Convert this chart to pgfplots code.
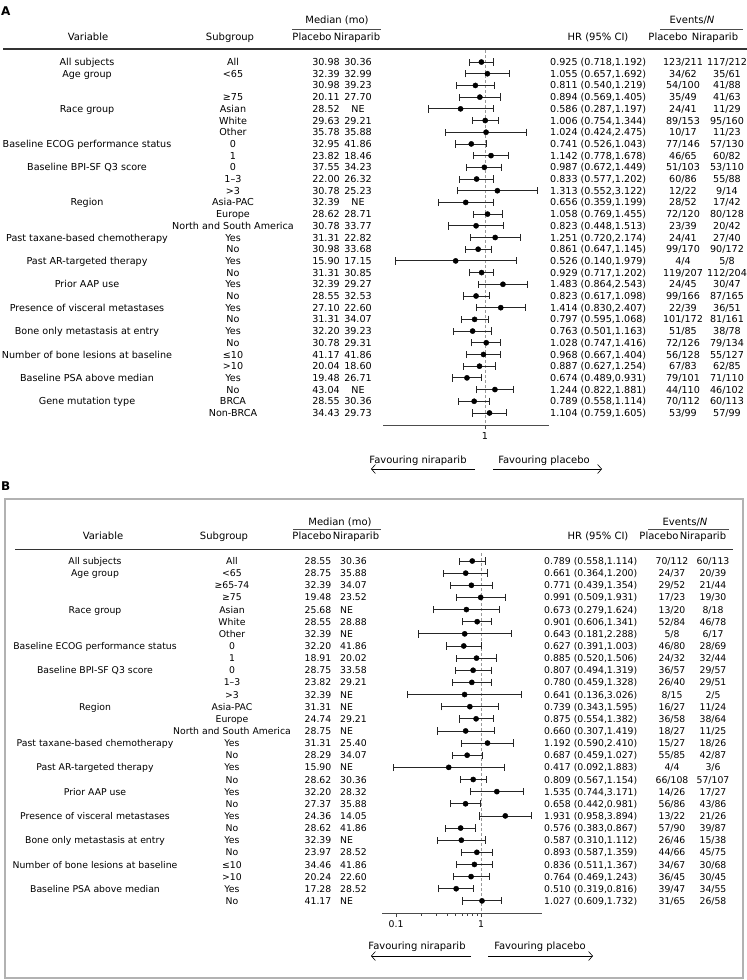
\documentclass[border=0pt]{standalone}
\usepackage{fontspec}
\setmainfont{DejaVu Sans}
\usepackage{pgfplots}
\usepackage{pgfplotstable}
\pgfplotsset{compat=1.18}
\usetikzlibrary{arrows.meta}

% panel A: row, HR, lower, upper
\pgfplotstableread{
row hr lo hi
0 0.925 0.718 1.192
1 1.055 0.657 1.692
2 0.811 0.540 1.219
3 0.894 0.569 1.405
4 0.586 0.287 1.197
5 1.006 0.754 1.344
6 1.024 0.424 2.475
7 0.741 0.526 1.043
8 1.142 0.778 1.678
9 0.987 0.672 1.449
10 0.833 0.577 1.202
11 1.313 0.552 3.122
12 0.656 0.359 1.199
13 1.058 0.769 1.455
14 0.823 0.448 1.513
15 1.251 0.720 2.174
16 0.861 0.647 1.145
17 0.526 0.140 1.979
18 0.929 0.717 1.202
19 1.483 0.864 2.543
20 0.823 0.617 1.098
21 1.414 0.830 2.407
22 0.797 0.595 1.068
23 0.763 0.501 1.163
24 1.028 0.747 1.416
25 0.968 0.667 1.404
26 0.887 0.627 1.254
27 0.674 0.489 0.931
28 1.244 0.822 1.881
29 0.789 0.558 1.114
30 1.104 0.759 1.605
}\tabA

% panel B
\pgfplotstableread{
row hr lo hi
0 0.789 0.558 1.114
1 0.661 0.364 1.200
2 0.771 0.439 1.354
3 0.991 0.509 1.931
4 0.673 0.279 1.624
5 0.901 0.606 1.341
6 0.643 0.181 2.288
7 0.627 0.391 1.003
8 0.885 0.520 1.506
9 0.807 0.494 1.319
10 0.780 0.459 1.328
11 0.641 0.136 3.026
12 0.739 0.343 1.595
13 0.875 0.554 1.382
14 0.660 0.307 1.419
15 1.192 0.590 2.410
16 0.687 0.459 1.027
17 0.417 0.092 1.883
18 0.809 0.567 1.154
19 1.535 0.744 3.171
20 0.658 0.442 0.981
21 1.931 0.958 3.894
22 0.576 0.383 0.867
23 0.587 0.310 1.112
24 0.893 0.587 1.359
25 0.836 0.511 1.367
26 0.764 0.469 1.243
27 0.510 0.319 0.816
28 1.027 0.609 1.732
}\tabB

\newcommand\fA{\fontsize{9.6}{11}\selectfont}
\newcommand\fB{\fontsize{9.3}{11}\selectfont}
\newcommand\fH{\fontsize{10}{12}\selectfont}

\newcommand\rowA[8]{%
  \pgfmathsetmacro\yy{62+11.7*#1}%
  \node at (87,\yy) {#2};
  \node at (233,\yy) {#3};
  \node at (326,\yy) {#4};
  \node at (358,\yy) {#5};
  \node[anchor=west] at (550,\yy) {#6};
  \node at (683,\yy) {#7};
  \node at (727,\yy) {#8};
}
\newcommand\rowB[8]{%
  \pgfmathsetmacro\yy{561+12.14*#1}%
  \node at (95,\yy) {#2};
  \node at (232,\yy) {#3};
  \node at (318,\yy) {#4};
  \node[anchor=west] at (340,\yy) {#5};
  \node[anchor=west] at (544,\yy) {#6};
  \node at (672,\yy) {#7};
  \node at (713,\yy) {#8};
}

\begin{document}
\begin{tikzpicture}[x=1pt, y=-1pt, every node/.style={inner sep=0pt, text height=7pt, text depth=0pt}]
\useasboundingbox (0,0) rectangle (747,980);

% ---------- panel A ----------
\node[anchor=west, font=\bfseries\fontsize{12}{14}\selectfont] at (1,12) {A};
\begin{scope}[font=\fH]
  \node at (337,20) {Median (mo)};
  \draw[black!70, line width=0.7pt] (292,29) -- (381,29);
  \node at (88,37) {Variable};
  \node at (230,37) {Subgroup};
  \node at (312,37) {Placebo};
  \node at (357,37) {Niraparib};
  \node at (598,37) {HR (95\% CI)};
  \node at (692,20) {Events/\textit{N}};
  \draw[black!70, line width=0.7pt] (660,29) -- (743,29);
  \node at (668,37) {Placebo};
  \node at (715,37) {Niraparib};
\end{scope}
\draw[black!80, line width=1.2pt] (3,49) -- (747,49);

\begin{scope}[font=\fA]
\rowA{0}{All subjects}{All}{30.98}{30.36}{0.925 (0.718,1.192)}{123/211}{117/212}
\rowA{1}{Age group}{<65}{32.39}{32.99}{1.055 (0.657,1.692)}{34/62}{35/61}
\rowA{2}{}{}{30.98}{39.23}{0.811 (0.540,1.219)}{54/100}{41/88}
\rowA{3}{}{≥75}{20.11}{27.70}{0.894 (0.569,1.405)}{35/49}{41/63}
\rowA{4}{Race group}{Asian}{28.52}{NE}{0.586 (0.287,1.197)}{24/41}{11/29}
\rowA{5}{}{White}{29.63}{29.21}{1.006 (0.754,1.344)}{89/153}{95/160}
\rowA{6}{}{Other}{35.78}{35.88}{1.024 (0.424,2.475)}{10/17}{11/23}
\rowA{7}{Baseline ECOG performance status}{0}{32.95}{41.86}{0.741 (0.526,1.043)}{77/146}{57/130}
\rowA{8}{}{1}{23.82}{18.46}{1.142 (0.778,1.678)}{46/65}{60/82}
\rowA{9}{Baseline BPI-SF Q3 score}{0}{37.55}{34.23}{0.987 (0.672,1.449)}{51/103}{53/110}
\rowA{10}{}{1–3}{22.00}{26.32}{0.833 (0.577,1.202)}{60/86}{55/88}
\rowA{11}{}{>3}{30.78}{25.23}{1.313 (0.552,3.122)}{12/22}{9/14}
\rowA{12}{Region}{Asia-PAC}{32.39}{NE}{0.656 (0.359,1.199)}{28/52}{17/42}
\rowA{13}{}{Europe}{28.62}{28.71}{1.058 (0.769,1.455)}{72/120}{80/128}
\rowA{14}{}{North and South America}{30.78}{33.77}{0.823 (0.448,1.513)}{23/39}{20/42}
\rowA{15}{Past taxane-based chemotherapy}{Yes}{31.31}{22.82}{1.251 (0.720,2.174)}{24/41}{27/40}
\rowA{16}{}{No}{30.98}{33.68}{0.861 (0.647,1.145)}{99/170}{90/172}
\rowA{17}{Past AR-targeted therapy}{Yes}{15.90}{17.15}{0.526 (0.140,1.979)}{4/4}{5/8}
\rowA{18}{}{No}{31.31}{30.85}{0.929 (0.717,1.202)}{119/207}{112/204}
\rowA{19}{Prior AAP use}{Yes}{32.39}{29.27}{1.483 (0.864,2.543)}{24/45}{30/47}
\rowA{20}{}{No}{28.55}{32.53}{0.823 (0.617,1.098)}{99/166}{87/165}
\rowA{21}{Presence of visceral metastases}{Yes}{27.10}{22.60}{1.414 (0.830,2.407)}{22/39}{36/51}
\rowA{22}{}{No}{31.31}{34.07}{0.797 (0.595,1.068)}{101/172}{81/161}
\rowA{23}{Bone only metastasis at entry}{Yes}{32.20}{39.23}{0.763 (0.501,1.163)}{51/85}{38/78}
\rowA{24}{}{No}{30.78}{29.31}{1.028 (0.747,1.416)}{72/126}{79/134}
\rowA{25}{Number of bone lesions at baseline}{≤10}{41.17}{41.86}{0.968 (0.667,1.404)}{56/128}{55/127}
\rowA{26}{}{>10}{20.04}{18.60}{0.887 (0.627,1.254)}{67/83}{62/85}
\rowA{27}{Baseline PSA above median}{Yes}{19.48}{26.71}{0.674 (0.489,0.931)}{79/101}{71/110}
\rowA{28}{}{No}{43.04}{NE}{1.244 (0.822,1.881)}{44/110}{46/102}
\rowA{29}{Gene mutation type}{BRCA}{28.55}{30.36}{0.789 (0.558,1.114)}{70/112}{60/113}
\rowA{30}{}{Non-BRCA}{34.43}{29.73}{1.104 (0.759,1.605)}{53/99}{57/99}
\end{scope}

\begin{axis}[at={(383pt,-425pt)}, anchor=south west, scale only axis,
  width=166pt, height=375pt, xmode=log,
  xmin=0.107, xmax=4.07, ymin=-31.03, ymax=1.03,
  axis x line*=bottom, axis y line=none,
  xtick={1}, xticklabels={1}, minor xtick={},
  tick align=outside, major tick length=4pt,
  tick style={black!75, line width=0.7pt},
  axis line style={black!70, line width=0.8pt},
  x tick label style={font=\fA, yshift=-3pt}, clip=false]
  \addplot[gray!80, dash pattern=on 3pt off 2pt, line width=0.8pt] coordinates {(1,1.03) (1,-31.03)};
  \addplot[only marks, mark=*, mark size=2.6pt, black,
    error bars/x dir=both, error bars/x explicit, error bars/error mark=|,
    error bars/error bar style={line width=0.8pt, black!85},
    error bars/error mark options={mark size=3.6pt, line width=0.8pt, black!85}]
    table[x=hr, y expr=-\thisrow{row},
    x error plus expr=\thisrow{hi}-\thisrow{hr},
    x error minus expr=\thisrow{hr}-\thisrow{lo}] {\tabA};
\end{axis}

\begin{scope}[font=\fH]
  \node at (418,460) {Favouring niraparib};
  \node at (544,460) {Favouring placebo};
\end{scope}
\draw[-{Straight Barb[length=4pt,width=9pt]}, line width=0.6pt] (475,469) -- (371,469);
\draw[-{Straight Barb[length=4pt,width=9pt]}, line width=0.6pt] (493,469) -- (602,469);

% ---------- panel B ----------
\node[anchor=west, font=\bfseries\fontsize{12}{14}\selectfont] at (1,487) {B};
\draw[gray!60, line width=1.5pt] (5,499) rectangle (743,978);
\begin{scope}[font=\fH]
  \node at (340,522) {Median (mo)};
  \draw[black!70, line width=0.7pt] (293,529) -- (381,529);
  \node at (103,536) {Variable};
  \node at (224,536) {Subgroup};
  \node at (312,536) {Placebo};
  \node at (356,536) {Niraparib};
  \node at (598,536) {HR (95\% CI)};
  \node at (685,522) {Events/\textit{N}};
  \draw[black!70, line width=0.7pt] (648,529) -- (729,529);
  \node at (659,536) {Placebo};
  \node at (703,536) {Niraparib};
\end{scope}
\draw[black!80, line width=1pt] (15,549) -- (733,549);

\begin{scope}[font=\fB]
\rowB{0}{All subjects}{All}{28.55}{30.36}{0.789 (0.558,1.114)}{70/112}{60/113}
\rowB{1}{Age group}{<65}{28.75}{35.88}{0.661 (0.364,1.200)}{24/37}{20/39}
\rowB{2}{}{≥65-74}{32.39}{34.07}{0.771 (0.439,1.354)}{29/52}{21/44}
\rowB{3}{}{≥75}{19.48}{23.52}{0.991 (0.509,1.931)}{17/23}{19/30}
\rowB{4}{Race group}{Asian}{25.68}{NE}{0.673 (0.279,1.624)}{13/20}{8/18}
\rowB{5}{}{White}{28.55}{28.88}{0.901 (0.606,1.341)}{52/84}{46/78}
\rowB{6}{}{Other}{32.39}{NE}{0.643 (0.181,2.288)}{5/8}{6/17}
\rowB{7}{Baseline ECOG performance status}{0}{32.20}{41.86}{0.627 (0.391,1.003)}{46/80}{28/69}
\rowB{8}{}{1}{18.91}{20.02}{0.885 (0.520,1.506)}{24/32}{32/44}
\rowB{9}{Baseline BPI-SF Q3 score}{0}{28.75}{33.58}{0.807 (0.494,1.319)}{36/57}{29/57}
\rowB{10}{}{1–3}{23.82}{29.21}{0.780 (0.459,1.328)}{26/40}{29/51}
\rowB{11}{}{>3}{32.39}{NE}{0.641 (0.136,3.026)}{8/15}{2/5}
\rowB{12}{Region}{Asia-PAC}{31.31}{NE}{0.739 (0.343,1.595)}{16/27}{11/24}
\rowB{13}{}{Europe}{24.74}{29.21}{0.875 (0.554,1.382)}{36/58}{38/64}
\rowB{14}{}{North and South America}{28.75}{NE}{0.660 (0.307,1.419)}{18/27}{11/25}
\rowB{15}{Past taxane-based chemotherapy}{Yes}{31.31}{25.40}{1.192 (0.590,2.410)}{15/27}{18/26}
\rowB{16}{}{No}{28.29}{34.07}{0.687 (0.459,1.027)}{55/85}{42/87}
\rowB{17}{Past AR-targeted therapy}{Yes}{15.90}{NE}{0.417 (0.092,1.883)}{4/4}{3/6}
\rowB{18}{}{No}{28.62}{30.36}{0.809 (0.567,1.154)}{66/108}{57/107}
\rowB{19}{Prior AAP use}{Yes}{32.20}{28.32}{1.535 (0.744,3.171)}{14/26}{17/27}
\rowB{20}{}{No}{27.37}{35.88}{0.658 (0.442,0.981)}{56/86}{43/86}
\rowB{21}{Presence of visceral metastases}{Yes}{24.36}{14.05}{1.931 (0.958,3.894)}{13/22}{21/26}
\rowB{22}{}{No}{28.62}{41.86}{0.576 (0.383,0.867)}{57/90}{39/87}
\rowB{23}{Bone only metastasis at entry}{Yes}{32.39}{NE}{0.587 (0.310,1.112)}{26/46}{15/38}
\rowB{24}{}{No}{23.97}{28.52}{0.893 (0.587,1.359)}{44/66}{45/75}
\rowB{25}{Number of bone lesions at baseline}{≤10}{34.46}{41.86}{0.836 (0.511,1.367)}{34/67}{30/68}
\rowB{26}{}{>10}{20.24}{22.60}{0.764 (0.469,1.243)}{36/45}{30/45}
\rowB{27}{Baseline PSA above median}{Yes}{17.28}{28.52}{0.510 (0.319,0.816)}{39/47}{34/55}
\rowB{28}{}{No}{41.17}{NE}{1.027 (0.609,1.732)}{31/65}{26/58}
\end{scope}

\begin{axis}[at={(382pt,-913pt)}, anchor=south west, scale only axis,
  width=160pt, height=360pt, xmode=log,
  xmin=0.0684, xmax=5.22, ymin=-29.0, ymax=0.66,
  axis x line*=bottom, axis y line=none,
  xtick={0.1,1}, xticklabels={0.1,1}, minor xtick={},
  tick align=outside, major tick length=4pt,
  tick style={black!75, line width=0.7pt},
  axis line style={black!70, line width=0.8pt},
  x tick label style={font=\fB, yshift=-3pt}, clip=false]
  \addplot[gray!80, dash pattern=on 3pt off 2pt, line width=0.8pt] coordinates {(1,0.66) (1,-29.0)};
  \addplot[only marks, mark=*, mark size=2.6pt, black,
    error bars/x dir=both, error bars/x explicit, error bars/error mark=|,
    error bars/error bar style={line width=0.8pt, black!85},
    error bars/error mark options={mark size=3.6pt, line width=0.8pt, black!85}]
    table[x=hr, y expr=-\thisrow{row},
    x error plus expr=\thisrow{hi}-\thisrow{hr},
    x error minus expr=\thisrow{hr}-\thisrow{lo}] {\tabB};
\end{axis}

\begin{scope}[font=\fH]
  \node at (417,946) {Favouring niraparib};
  \node at (540,946) {Favouring placebo};
\end{scope}
\draw[-{Straight Barb[length=4pt,width=9pt]}, line width=0.6pt] (471,956) -- (371,956);
\draw[-{Straight Barb[length=4pt,width=9pt]}, line width=0.6pt] (488,956) -- (593,956);
\end{tikzpicture}
\end{document}
